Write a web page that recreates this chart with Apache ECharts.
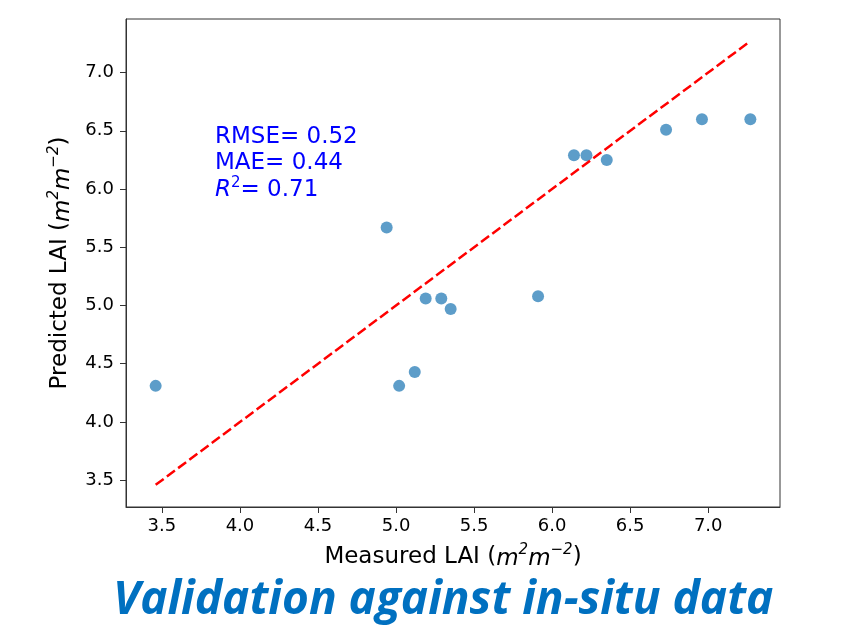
<!DOCTYPE html>
<html>
<head>
<meta charset="utf-8">
<script src="https://cdn.jsdelivr.net/npm/echarts@6/dist/echarts.min.js"></script>
<style>
html, body { margin: 0; padding: 0; background: #ffffff; }
#chart { width: 844px; height: 630px; }
</style>
</head>
<body>
<div id="chart"></div>
<script>
// values
const measured = [3.46, 5.02, 5.12, 5.19, 5.29, 5.35, 5.91, 4.94, 6.14, 6.22, 6.35, 6.73, 6.96, 7.27]
const predicted = [4.31, 4.31, 4.43, 5.06, 5.06, 4.97, 5.08, 5.67, 6.29, 6.29, 6.25, 6.51, 6.60, 6.60]
const lineX = [3.46, 7.27]
const lineY = [3.46, 7.27]
const xTicks = [3.5, 4.0, 4.5, 5.0, 5.5, 6.0, 6.5, 7.0]
const yTicks = [3.5, 4.0, 4.5, 5.0, 5.5, 6.0, 6.5, 7.0]
const statLines = ['RMSE= 0.52', 'MAE= 0.44', '{it|R}{sup|2}{txt|= 0.71}']
const caption = 'Validation against in-situ data'

const axisMin = 3.27, axisMax = 7.46

const supRich = {
    i: { fontFamily: 'DejaVu Sans', fontStyle: 'italic', fontSize: 23, color: '#000', lineHeight: 28, verticalAlign: 'bottom' },
    s: { fontFamily: 'DejaVu Sans', fontStyle: 'italic', fontSize: 15, color: '#000', lineHeight: 15, verticalAlign: 'top' }
}

function createAxis(name, ticks, nameGap, labelMargin){
    return {
        type: 'value',
        min: axisMin,
        max: axisMax,
        name: name,
        nameLocation: 'middle',
        nameGap: nameGap,
        nameTextStyle: {
            fontFamily: 'DejaVu Sans',
            fontSize: 23,
            color: '#000',
            lineHeight: 28,
            rich: supRich
        },
        splitLine: { show: false },
        axisLine: { show: true, onZero: false, lineStyle: { color: '#333', width: 1 } },
        axisTick: {
            show: true, inside: false, length: 6,
            customValues: ticks,
            lineStyle: { color: '#333', width: 1 }
        },
        axisLabel: {
            customValues: ticks,
            fontFamily: 'DejaVu Sans',
            fontSize: 18,
            color: '#000',
            margin: labelMargin,
            formatter: function(v){ return v.toFixed(1) }
        }
    }
}

const chart = echarts.init(document.getElementById('chart'))
const points = measured.map((m, i) => [m, predicted[i]])

chart.setOption({
    backgroundColor: '#ffffff',
    animation: false,
    grid: {
        left: 126, top: 19, right: 64, bottom: 123,
        show: true, borderColor: '#333', borderWidth: 1
    },
    xAxis: createAxis('Measured LAI ({i|m}{s|2}{i|m}{s|−2})', xTicks, 36, 10),
    yAxis: createAxis('Predicted LAI ({i|m}{s|2}{i|m}{s|−2})', yTicks, 48, 12),
    series: [{
        type: 'line',
        data: [[lineX[0], lineY[0]], [lineX[1], lineY[1]]],
        symbol: 'none',
        lineStyle: { color: '#ff0000', width: 2.5, type: [10, 4] },
        z: 3
    }, {
        type: 'scatter',
        data: points,
        symbolSize: 12,
        itemStyle: { color: '#1f77b4', opacity: 0.72 },
        z: 2
    }],
    graphic: [{
        type: 'text',
        left: 215,
        top: 124,
        style: {
            text: statLines.join('\n'),
            fill: '#0000ff',
            font: '23px "DejaVu Sans"',
            lineHeight: 26,
            rich: {
                it: { fontFamily: 'DejaVu Sans', fontStyle: 'italic', fontSize: 23, fill: '#0000ff', lineHeight: 26, verticalAlign: 'bottom' },
                sup: { fontFamily: 'DejaVu Sans', fontSize: 15, fill: '#0000ff', lineHeight: 15, verticalAlign: 'top' },
                txt: { fontFamily: 'DejaVu Sans', fontSize: 23, fill: '#0000ff', lineHeight: 26, verticalAlign: 'bottom' }
            }
        }
    }, {
        type: 'text',
        left: 113,
        top: 578,
        style: {
            text: caption,
            fill: '#0070c0',
            font: 'italic bold 46px "Open Sans"'
        }
    }]
})
</script>
</body>
</html>
